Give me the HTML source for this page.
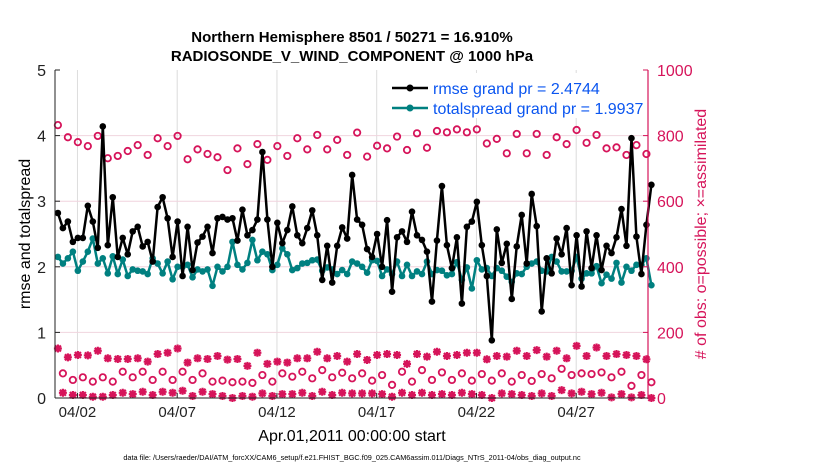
<!DOCTYPE html>
<html><head><meta charset="utf-8">
<style>
html,body{margin:0;padding:0;background:#fff;}
svg{display:block;font-family:"Liberation Sans",sans-serif;}
</style></head>
<body>
<svg id="chart" width="830" height="470" viewBox="0 0 830 470" xmlns="http://www.w3.org/2000/svg">
  <rect x="0" y="0" width="830" height="470" fill="#fff"/>
  <text x="352" y="42" text-anchor="middle" font-size="15" font-weight="bold">Northern Hemisphere 8501 / 50271 = 16.910%</text>
  <text x="352" y="61" text-anchor="middle" font-size="15" font-weight="bold">RADIOSONDE_V_WIND_COMPONENT @ 1000 hPa</text>
  <g id="grid"></g>
  <g id="marks"></g>
  <g id="axes"></g>
  <text transform="translate(30,234) rotate(-90)" text-anchor="middle" font-size="16">rmse and totalspread</text>
  <text transform="translate(706,234) rotate(-90)" text-anchor="middle" font-size="16" fill="#d6145a"># of obs: o=possible; ×=assimilated</text>
  <text x="352" y="441" text-anchor="middle" font-size="16">Apr.01,2011 00:00:00 start</text>
  <text x="352" y="460" text-anchor="middle" font-size="7.3">data file: /Users/raeder/DAI/ATM_forcXX/CAM6_setup/f.e21.FHIST_BGC.f09_025.CAM6assim.011/Diags_NTrS_2011-04/obs_diag_output.nc</text>
  <g id="legend">
    <rect x="386" y="73" width="258" height="45" fill="#fff"/>
    <line x1="392" y1="88" x2="428" y2="88" stroke="#000" stroke-width="2.5"/>
    <circle cx="410" cy="88" r="3.5" fill="#000"/>
    <text x="433" y="94" font-size="16" fill="#0a55f0">rmse grand pr = 2.4744</text>
    <line x1="392" y1="108" x2="428" y2="108" stroke="#008080" stroke-width="2.5"/>
    <circle cx="410" cy="108" r="3.5" fill="#008080"/>
    <text x="433" y="114" font-size="16" fill="#0a55f0">totalspread grand pr = 1.9937</text>
  </g>
</svg>
<script>
const xTickDays = [1, 6, 11, 16, 21, 26];
const xTickLabels = ["04/02", "04/07", "04/12", "04/17", "04/22", "04/27"];
const yLeftTicks = [0, 1, 2, 3, 4, 5];
const yRightTicks = [0, 200, 400, 600, 800, 1000];
const rmse = [2.82,2.59,2.69,2.38,2.44,2.44,2.93,2.69,2.29,4.14,2.33,3.06,2.15,2.44,2.19,2.54,2.61,2.31,2.38,2.08,2.91,3.06,2.74,2.15,2.69,1.86,2.61,1.95,2.37,2.46,2.61,
2.21,2.74,2.76,2.72,2.74,2.40,2.87,2.48,2.56,2.72,3.75,2.72,2.0,2.67,2.36,2.56,2.92,2.48,2.36,2.59,2.86,2.48,1.80,2.32,1.76,2.32,2.60,2.43,3.40,2.72,
2.64,2.27,2.15,2.50,2.0,2.71,1.62,2.45,2.54,2.38,2.84,2.48,2.41,2.23,1.47,2.40,3.23,2.33,1.98,2.45,1.44,2.61,2.69,2.99,2.33,1.86,0.88,2.57,2.06,2.35,1.51,
2.31,2.79,2.05,3.11,2.62,1.32,2.13,1.90,2.43,2.19,2.59,1.72,2.48,1.70,2.54,1.98,2.48,1.95,2.32,2.21,2.45,2.88,2.32,3.96,2.46,1.89,2.64,3.25];
const spread = [2.15,2.05,2.13,2.23,1.94,2.08,2.23,2.43,2.05,2.13,1.90,2.16,1.89,2.11,1.86,1.96,1.94,1.93,1.89,2.13,2.05,1.90,2.08,1.81,2.00,2.0,2.03,1.84,1.96,1.93,1.96,
1.71,2.0,1.93,2.0,2.38,2.03,1.96,2.06,2.41,2.10,2.23,2.19,1.95,2.03,2.28,2.19,1.95,1.98,2.05,2.06,2.10,2.11,1.94,1.99,1.96,1.89,1.95,1.89,2.08,2.05,
2.0,1.91,2.10,2.09,1.86,1.96,1.89,2.08,1.86,2.03,1.86,1.93,1.89,2.08,1.89,1.95,1.94,1.87,1.89,2.07,1.80,1.99,1.67,2.10,1.96,1.98,1.86,1.98,1.94,1.85,1.77,
1.90,1.89,2.0,2.05,2.08,1.94,1.93,2.15,2.08,1.93,1.93,1.94,2.15,1.82,1.90,1.90,2.01,1.75,1.88,1.82,2.06,1.76,2.00,1.94,2.03,2.03,2.13,1.72];
const possibleMain = [832,795,780,768,799,731,738,753,771,741,792,768,799,728,758,744,
734,695,761,713,774,726,768,738,792,758,802,758,787,741,809,
736,769,761,797,756,807,763,814,810,819,810,819,776,790,
746,805,746,805,741,795,774,817,778,802,761,764,741,771,744];
const possibleOff = [75,55,63,50,63,50,80,63,80,55,80,55,80,55,75,50,53,48,50,46,70,50,75,65,80,60,85,63,77,
60,75,53,70,40,80,50,85,55,78,55,75,53,73,53,75,50,70,52,73,60,89,70,75,73,78,63,80,37,70,48];
const assimMain = [151,124,131,130,144,121,119,119,121,111,134,138,151,108,121,119,128,117,119,98,138,104,111,108,121,121,141,121,128,111,
134,116,131,134,131,104,134,126,141,128,131,138,138,118,128,126,144,128,146,126,144,121,159,128,154,128,134,131,128,118];
const assimOff = [16,9,9,4,4,9,16,12,19,9,19,16,22,6,19,12,6,0,6,4,14,6,12,12,16,6,19,9,16,
14,14,14,12,4,16,9,16,9,12,9,16,12,9,0,14,12,9,6,14,6,24,14,19,12,16,2,12,2,9,0];

const NS = "http://www.w3.org/2000/svg";
const L = 55, R = 648, T = 70, B = 398;
const xDay = d => 57.5 + 19.95 * d;
const yL = v => B - (v / 5) * (B - T);
const yR = v => B - (v / 1000) * (B - T);
function mk(tag, attrs, parent) {
  const e = document.createElementNS(NS, tag);
  for (const k in attrs) e.setAttribute(k, attrs[k]);
  parent.appendChild(e);
  return e;
}
const grid = document.getElementById('grid');
const marks = document.getElementById('marks');
const axes = document.getElementById('axes');

xTickDays.forEach((d, i) => {
  const g = mk('line', {x1: xDay(d), x2: xDay(d), y1: T, y2: B, stroke: '#dcdcdc', 'stroke-width': 1}, grid);
  
  
  const t = mk('line', {x1: xDay(d), x2: xDay(d), y1: B, y2: B - 5, stroke: '#222', 'stroke-width': 1}, axes);
  
  
  const lb = mk('text', {x: xDay(d), y: B + 19, 'text-anchor': 'middle', 'font-size': 15, fill: '#222'}, axes);
  lb.textContent = xTickLabels[i];
  
  
});
yLeftTicks.forEach(v => {
  if (v > 0 && v < 5) {
    const g = mk('line', {x1: L, x2: R, y1: yL(v), y2: yL(v), stroke: '#f0d4de', 'stroke-width': 1}, grid);
    
    
  }
  const t = mk('line', {x1: L, x2: L + 5, y1: yL(v), y2: yL(v), stroke: '#222'}, axes);
  
  
  const lb = mk('text', {x: L - 9, y: yL(v) + 6, 'text-anchor': 'end', 'font-size': 16, fill: '#222'}, axes);
  lb.textContent = String(v);
  
  
});
yRightTicks.forEach(v => {
  const t = mk('line', {x1: R - 5, x2: R, y1: yR(v), y2: yR(v), stroke: '#d6145a'}, axes);
  
  
  const lb = mk('text', {x: R + 9, y: yR(v) + 6, 'font-size': 16, fill: '#d6145a'}, axes);
  lb.textContent = String(v);
  
  
});
const axL = mk('line', {x1: L, x2: L, y1: T, y2: B, stroke: '#222', 'stroke-width': 1}, axes);


const axB = mk('line', {x1: L, x2: R, y1: B, y2: B, stroke: '#222', 'stroke-width': 1}, axes);


const axR = mk('line', {x1: R, x2: R, y1: T, y2: B, stroke: '#d6145a', 'stroke-width': 1.2}, axes);



const tOf = i => i * 0.25 + 0.02;
const RED = '#d6145a';
function drawCounts(arr, parity, kind) {
  arr.forEach((v, k) => {
    const i = 2 * k + parity;
    const x = xDay(tOf(i)), y = yR(v);
    if (kind === 'o') {
      const c = mk('circle', {cx: x, cy: y, r: 3.2, fill: 'none', stroke: RED, 'stroke-width': 1.8}, marks);
      
      
    } else {
      const s = 4;
      const p = mk('path', {d: `M${x-s},${y}H${x+s}M${x},${y-s}V${y+s}M${x-3},${y-3}L${x+3},${y+3}M${x-3},${y+3}L${x+3},${y-3}`, stroke: RED, 'stroke-width': 2.2, fill: 'none'}, marks);
      
      
    }
  });
}
drawCounts(possibleMain, 0, 'o');
drawCounts(possibleOff, 1, 'o');
drawCounts(assimMain, 0, '*');
drawCounts(assimOff, 1, '*');

function drawLine(arr, color, name) {
  const pts = arr.map((v, i) => xDay(tOf(i)).toFixed(1) + ',' + yL(v).toFixed(1)).join(' ');
  const pl = mk('polyline', {points: pts, fill: 'none', stroke: color, 'stroke-width': 2.5, 'stroke-linejoin': 'round'}, marks);
  
  
  arr.forEach((v, i) => {
    const c = mk('circle', {cx: xDay(tOf(i)), cy: yL(v), r: 3.3, fill: color}, marks);
    
    
  });
}
drawLine(spread, '#008080', 'totalspread');
drawLine(rmse, '#000000', 'rmse');
</script>
</body></html>
